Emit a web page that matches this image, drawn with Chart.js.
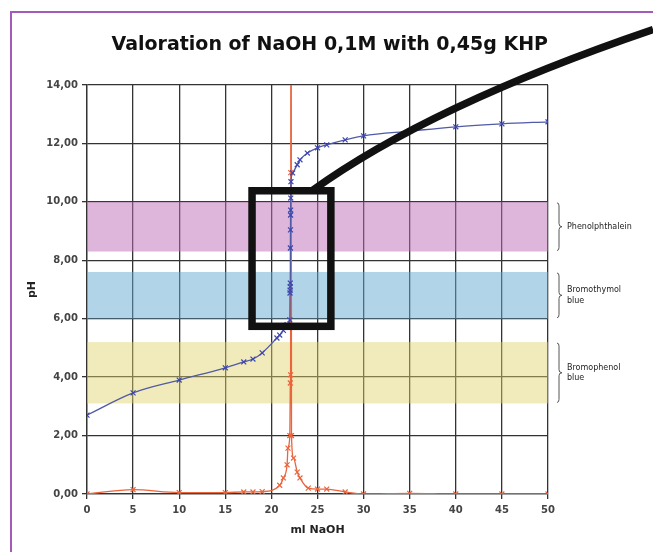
<!DOCTYPE html>
<html>
<head>
<meta charset="utf-8">
<script src="https://cdn.jsdelivr.net/npm/chart.js@4.4.1/dist/chart.umd.min.js"></script>
<style>
  html, body { margin: 0; padding: 0; background: #fff; }
  #wrap { position: relative; width: 653px; height: 552px; }
</style>
</head>
<body>
<div id="wrap"><canvas id="titration" width="653" height="552"></canvas></div>
<script>
// pH curve (ml NaOH -> pH)
const volumePH = [0, 5, 10, 15, 17, 18, 19, 20.6, 20.9, 21.3, 21.7, 22.0, 22.02, 22.03, 22.04, 22.05,
  22.06, 22.07, 22.08, 22.09, 22.1, 22.12, 22.3, 22.8, 23.1, 23.9, 25, 26, 28, 30, 35, 40, 45, 50];
const phValues = [2.7, 3.46, 3.9, 4.32, 4.52, 4.62, 4.83, 5.34, 5.44, 5.6, 5.8, 5.96, 6.88, 6.98, 7.09, 7.22,
  8.42, 9.04, 9.55, 9.72, 10.13, 10.69, 10.99, 11.27, 11.44, 11.67, 11.85, 11.95, 12.12, 12.26, 12.42, 12.57, 12.67, 12.74];

// derivative curve (dpH/dV), same x axis
const volumeDeriv = [0, 5, 10, 15, 17, 18, 19, 20.9, 21.3, 21.7, 21.8, 22.0, 22.05, 22.08, 22.1, 22.12,
  22.18, 22.4, 22.8, 23.1, 24, 25, 26, 28, 30, 35, 40, 45, 50];
const derivValues = [0.0, 0.15, 0.05, 0.05, 0.07, 0.07, 0.08, 0.3, 0.55, 1.0, 1.57, 2.0, 3.8, 4.08, 11.0, 30,
  2.0, 1.23, 0.75, 0.55, 0.2, 0.17, 0.17, 0.07, 0.0, 0.02, 0.0, 0.0, 0.0];

// indicator ranges
const indicatorNames = [['Phenolphthalein'], ['Bromothymol', 'blue'], ['Bromophenol', 'blue']];
const indicatorLow = [8.3, 6.0, 3.1];
const indicatorHigh = [10.0, 7.6, 5.2];

// zoom box and pointer (in ml / pH units)
const boxX = [17.9, 26.45];
const boxY = [5.74, 10.38];
const pointerX = [24.4, 37.2, 61.4];
const pointerY = [10.38, 13.3, 15.9];

const bandColors = ['rgba(190,110,185,0.5)', 'rgba(100,170,210,0.5)', 'rgba(225,210,105,0.45)'];

const toPoints = (xs, ys) => xs.map((x, i) => ({ x: x, y: ys[i] }));

const bandsPlugin = {
  id: 'bands',
  beforeDatasetsDraw(chart) {
    const { ctx, chartArea: a, scales: { y } } = chart;
    ctx.save();
    indicatorLow.forEach((lo, i) => {
      const top = y.getPixelForValue(indicatorHigh[i]);
      const bot = y.getPixelForValue(lo);
      ctx.fillStyle = bandColors[i];
      ctx.fillRect(a.left, top, a.right - a.left, bot - top);
    });
    ctx.restore();
  }
};

const decorPlugin = {
  id: 'decor',
  afterDraw(chart) {
    const { ctx, chartArea: a, scales: { x, y } } = chart;
    ctx.save();

    // braces + labels
    ctx.strokeStyle = '#555';
    ctx.lineWidth = 1;
    ctx.fillStyle = '#222';
    ctx.font = '8px "DejaVu Sans"';
    ctx.textBaseline = 'middle';
    indicatorLow.forEach((lo, i) => {
      const t = y.getPixelForValue(indicatorHigh[i]) + 1;
      const b = y.getPixelForValue(lo) - 1;
      const m = (t + b) / 2;
      const bx = a.right + 11;
      ctx.beginPath();
      ctx.moveTo(bx - 2, t);
      ctx.quadraticCurveTo(bx, t, bx, t + 3);
      ctx.lineTo(bx, m - 3);
      ctx.quadraticCurveTo(bx, m, bx + 3, m);
      ctx.quadraticCurveTo(bx, m, bx, m + 3);
      ctx.lineTo(bx, b - 3);
      ctx.quadraticCurveTo(bx, b, bx - 2, b);
      ctx.stroke();
      const lines = indicatorNames[i];
      lines.forEach((s, k) => {
        ctx.fillText(s, a.right + 19, m + (k - (lines.length - 1) / 2) * 10.5);
      });
    });

    // black zoom box and pointer
    ctx.strokeStyle = '#111';
    ctx.lineWidth = 7.5;
    const x0 = x.getPixelForValue(boxX[0]), x1 = x.getPixelForValue(boxX[1]);
    const y0 = y.getPixelForValue(boxY[1]), y1 = y.getPixelForValue(boxY[0]);
    ctx.strokeRect(x0, y0, x1 - x0, y1 - y0);
    ctx.beginPath();
    ctx.moveTo(x.getPixelForValue(pointerX[0]), y.getPixelForValue(pointerY[0]));
    ctx.quadraticCurveTo(x.getPixelForValue(pointerX[1]), y.getPixelForValue(pointerY[1]),
      x.getPixelForValue(pointerX[2]), y.getPixelForValue(pointerY[2]));
    ctx.stroke();

    // purple frame
    ctx.strokeStyle = '#a35ab8';
    ctx.lineWidth = 2;
    ctx.beginPath();
    ctx.moveTo(11, 552);
    ctx.lineTo(11, 12);
    ctx.lineTo(653, 12);
    ctx.stroke();
    ctx.restore();
  }
};

const fmt = v => v.toFixed(2).replace('.', ',');

new Chart(document.getElementById('titration'), {
  type: 'line',
  data: {
    datasets: [
      {
        label: 'pH',
        data: toPoints(volumePH, phValues),
        borderColor: 'rgb(80,90,165)',
        backgroundColor: 'rgb(60,70,170)',
        borderWidth: 1.3,
        pointStyle: 'crossRot',
        pointRadius: 3.5,
        pointBorderColor: 'rgb(60,70,175)',
        pointBorderWidth: 1.2,
        cubicInterpolationMode: 'monotone'
      },
      {
        label: 'dpH/dV',
        data: toPoints(volumeDeriv, derivValues),
        borderColor: 'rgb(234,100,60)',
        backgroundColor: 'rgb(234,100,60)',
        borderWidth: 1.3,
        pointStyle: 'crossRot',
        pointRadius: 3.5,
        pointBorderColor: 'rgb(234,100,60)',
        pointBorderWidth: 1.2,
        cubicInterpolationMode: 'monotone'
      }
    ]
  },
  options: {
    responsive: false,
    animation: false,
    layout: { padding: { left: 12, right: 105, top: 0, bottom: 10 } },
    plugins: {
      legend: { display: false },
      tooltip: { enabled: false },
      title: {
        display: true,
        align: 'end',
        text: 'Valoration of NaOH 0,1M with 0,45g KHP',
        color: '#111',
        font: { family: '"DejaVu Sans"', size: 19, weight: 'bold' },
        padding: { top: 33.6, bottom: 28.6 }
      }
    },
    scales: {
      x: {
        type: 'linear',
        min: 0,
        max: 50,
        afterFit(s) { s.height = 48; },
        ticks: {
          stepSize: 5,
          padding: 5,
          color: '#444',
          font: { family: '"DejaVu Sans"', size: 10, weight: 'bold' }
        },
        grid: { color: '#333', lineWidth: 1.3, tickLength: 5 },
        border: { color: '#333', width: 1.3 },
        title: {
          display: true,
          text: 'ml NaOH',
          color: '#222',
          font: { family: '"DejaVu Sans"', size: 11, weight: 'bold' },
          padding: { top: 0, bottom: 5.4 }
        }
      },
      y: {
        min: 0,
        max: 14,
        afterFit(s) { s.width = 75; },
        ticks: {
          stepSize: 2,
          padding: 4,
          color: '#444',
          font: { family: '"DejaVu Sans"', size: 10, weight: 'bold' },
          callback: v => fmt(v)
        },
        grid: { color: '#333', lineWidth: 1.3, tickLength: 5 },
        border: { color: '#333', width: 1.3 },
        title: {
          display: true,
          text: 'pH',
          color: '#222',
          font: { family: '"DejaVu Sans"', size: 11, weight: 'bold' },
          padding: { top: 13.4, bottom: 0 }
        }
      }
    }
  },
  plugins: [bandsPlugin, decorPlugin]
});
</script>
</body>
</html>
